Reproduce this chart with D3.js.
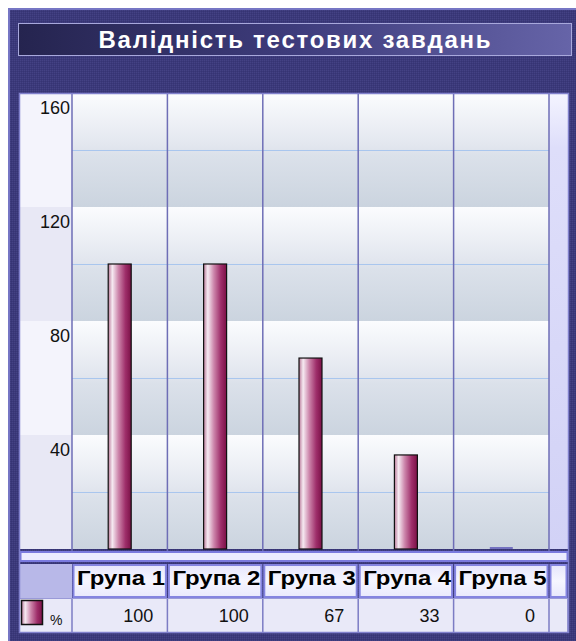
<!DOCTYPE html>
<html>
<head>
<meta charset="utf-8">
<script src="https://cdn.jsdelivr.net/npm/d3@7"></script>
<style>
  html, body { margin: 0; padding: 0; background: #ffffff; }
  svg { display: block; font-family: "Liberation Sans", Arial, sans-serif; }
</style>
</head>
<body>
<div id="chart"></div>
<script>
// Chart data.
const chartTitle = 'Валідність тестових завдань';
const categories = ['Група 1', 'Група 2', 'Група 3', 'Група 4', 'Група 5'];
const values = [100, 100, 67, 33, 0];
const seriesName = '%';
const yTicks = [40, 80, 120, 160];
const gridValues = [20, 60, 100, 140];
const bandEdges = [0, 40, 80, 120, 160];

const width = 576;
const height = 641;

const svg = d3.select('#chart')
    .append('svg')
    .attr('width', width)
    .attr('height', height);

const defs = svg.append('defs');

// Dithered navy texture for the frame.
const pat = defs.append('pattern')
    .attr('id', 'navy')
    .attr('width', 2)
    .attr('height', 2)
    .attr('patternUnits', 'userSpaceOnUse');
pat.append('rect').attr('width', 2).attr('height', 2).attr('fill', '#3b397a');
pat.append('rect').attr('width', 1).attr('height', 1).attr('fill', '#444284');
pat.append('rect').attr('x', 1).attr('y', 1).attr('width', 1).attr('height', 1).attr('fill', '#363473');

function gradient(id, stops, vertical) {
    const gr = defs.append('linearGradient')
        .attr('id', id)
        .attr('x1', 0).attr('y1', 0)
        .attr('x2', vertical ? 0 : 1)
        .attr('y2', vertical ? 1 : 0);
    stops.forEach(s => gr.append('stop').attr('offset', s[0]).attr('stop-color', s[1]));
}

gradient('titleGrad', [[0, '#25244f'], [0.5, '#3e3c7c'], [1, '#6664a8']], false);
gradient('bandGrad', [[0, '#fbfcfe'], [0.45, '#e3e7ef'], [0.55, '#dbe1ea'], [1, '#cbd4df']], true);
gradient('barGrad', [[0, '#b87898'], [0.18, '#f6eaf2'], [0.45, '#cc84aa'], [0.75, '#9e2e6a'], [1, '#7a1046']], false);
gradient('rightGrad', [[0, '#f4f4ff'], [0.12, '#dedefa'], [1, '#d2d2f6']], true);
gradient('headGrad', [[0, '#e6e6fc'], [0.5, '#f6f6ff'], [1, '#e8e8fc']], true);

// Outer frame.
svg.append('rect')
    .attr('x', 8).attr('y', 8)
    .attr('width', width - 8).attr('height', height - 8)
    .attr('fill', 'url(#navy)');
svg.append('path')
    .attr('d', `M9,${height}V9H${width}`)
    .attr('fill', 'none')
    .attr('stroke', '#7676c4')
    .attr('stroke-width', 2);

// Title bar.
svg.append('rect')
    .attr('x', 18.5).attr('y', 23.5)
    .attr('width', 553).attr('height', 32)
    .attr('fill', 'url(#titleGrad)')
    .attr('stroke', '#a8a8dc')
    .attr('stroke-width', 1);
svg.append('text')
    .attr('x', 294.5)
    .attr('y', 48)
    .attr('text-anchor', 'middle')
    .attr('fill', '#ffffff')
    .attr('font-size', 24)
    .attr('font-weight', 'bold')
    .attr('textLength', 392)
    .attr('lengthAdjust', 'spacing')
    .text(chartTitle);

// Scales.
const plotLeft = 72, plotRight = 549;
const x = d3.scaleBand()
    .domain(categories)
    .range([plotLeft, plotRight]);
const y = d3.scaleLinear()
    .domain([0, 160])
    .range([549, 93]);

// Left axis column with alternating bands.
svg.append('g')
    .selectAll('rect')
    .data(d3.pairs(bandEdges))
    .enter()
    .append('rect')
    .attr('x', 20)
    .attr('y', d => y(d[1]))
    .attr('width', plotLeft - 20)
    .attr('height', d => y(d[0]) - y(d[1]))
    .attr('fill', (d, i) => i % 2 === 0 ? '#e8e8f5' : '#f4f4fc');

// Plot bands.
svg.append('g')
    .selectAll('rect')
    .data(d3.pairs(bandEdges))
    .enter()
    .append('rect')
    .attr('x', plotLeft)
    .attr('y', d => y(d[1]))
    .attr('width', plotRight - plotLeft)
    .attr('height', d => y(d[0]) - y(d[1]))
    .attr('fill', 'url(#bandGrad)');

// Right spare column.
svg.append('rect')
    .attr('x', plotRight).attr('y', y(160))
    .attr('width', 568 - plotRight).attr('height', y(0) - y(160))
    .attr('fill', 'url(#rightGrad)');

// Minor gridlines.
svg.append('g')
    .selectAll('line')
    .data(gridValues)
    .enter()
    .append('line')
    .attr('x1', plotLeft).attr('x2', plotRight)
    .attr('y1', d => y(d) + 0.5).attr('y2', d => y(d) + 0.5)
    .attr('stroke', '#a9c6ee')
    .attr('stroke-width', 1.2);

// Column separators.
const edges = categories.map(c => x(c)).concat([plotRight]);
svg.append('g')
    .selectAll('line')
    .data(edges)
    .enter()
    .append('line')
    .attr('x1', d => d).attr('x2', d => d)
    .attr('y1', y(160)).attr('y2', y(0) + 2)
    .attr('stroke', '#6e6eb6')
    .attr('stroke-width', 1.5);

// Y axis labels.
const yAxis = svg.append('g')
    .attr('transform', `translate(${plotLeft},0)`)
    .call(d3.axisLeft(y).tickValues(yTicks).tickSize(0));
yAxis.select('.domain').remove();
yAxis.selectAll('text')
    .attr('x', -2)
    .attr('dy', null)
    .attr('y', 20)
    .attr('fill', '#111111')
    .attr('font-size', 18)
    .attr('font-family', '"Liberation Sans", Arial, sans-serif');

// Bars.
const barW = 23;
svg.append('g')
    .selectAll('rect')
    .data(values)
    .enter()
    .append('rect')
    .attr('x', (d, i) => x(categories[i]) + x.bandwidth() / 2 - barW / 2)
    .attr('y', d => d > 0 ? y(d) : y(0) - 2)
    .attr('width', barW)
    .attr('height', d => d > 0 ? y(0) - y(d) : 2)
    .attr('fill', d => d > 0 ? 'url(#barGrad)' : '#7472c0')
    .attr('stroke', d => d > 0 ? '#111111' : 'none')
    .attr('stroke-width', 1.2);

// Strip below plot.
svg.append('rect')
    .attr('x', 20.5).attr('y', 552)
    .attr('width', 547).attr('height', 9)
    .attr('fill', '#ebebff')
    .attr('stroke', '#7a7ade')
    .attr('stroke-width', 2);

// Table header row.
const headTop = 564, headH = 34;
const rowTop = 598, rowH = 34;
svg.append('rect')
    .attr('x', 20).attr('y', headTop)
    .attr('width', plotLeft - 20).attr('height', headH)
    .attr('fill', '#b8b8e8');
svg.append('g')
    .selectAll('rect')
    .data(categories.concat(['']))
    .enter()
    .append('rect')
    .attr('x', (d, i) => edges[i] + 1.5)
    .attr('y', headTop + 1)
    .attr('width', (d, i) => (i < categories.length ? x.bandwidth() : 568 - plotRight) - 3)
    .attr('height', headH - 2)
    .attr('fill', 'url(#headGrad)')
    .attr('stroke', '#8484e0')
    .attr('stroke-width', 2);
svg.append('g')
    .selectAll('text')
    .data(categories)
    .enter()
    .append('text')
    .attr('x', d => x(d) + 5)
    .attr('y', 585)
    .attr('font-size', 21)
    .attr('font-weight', 'bold')
    .attr('fill', '#000000')
    .attr('textLength', 88)
    .attr('lengthAdjust', 'spacingAndGlyphs')
    .text(d => d);

// Table value row.
svg.append('rect')
    .attr('x', 20).attr('y', rowTop)
    .attr('width', 548).attr('height', rowH)
    .attr('fill', '#e9e9f8');
svg.append('g')
    .selectAll('line')
    .data(edges.concat([568]))
    .enter()
    .append('line')
    .attr('x1', d => d).attr('x2', d => d)
    .attr('y1', rowTop).attr('y2', rowTop + rowH)
    .attr('stroke', '#7c7cc4')
    .attr('stroke-width', 1.5);
svg.append('line')
    .attr('x1', 20).attr('x2', 568)
    .attr('y1', rowTop + 0.5).attr('y2', rowTop + 0.5)
    .attr('stroke', '#9a9ad8');
svg.append('g')
    .selectAll('text')
    .data(values)
    .enter()
    .append('text')
    .attr('x', (d, i) => x(categories[i]) + x.bandwidth() - 14)
    .attr('y', 622)
    .attr('text-anchor', 'end')
    .attr('font-size', 18)
    .attr('fill', '#111111')
    .text(d => d);

// Legend swatch and series name.
svg.append('rect')
    .attr('x', 21.5).attr('y', 600.5)
    .attr('width', 21).attr('height', 24)
    .attr('fill', 'url(#barGrad)')
    .attr('stroke', '#111111')
    .attr('stroke-width', 1.5);
svg.append('text')
    .attr('x', 50)
    .attr('y', 625)
    .attr('font-size', 14)
    .attr('fill', '#111111')
    .text(seriesName);

// Panel border.
svg.append('rect')
    .attr('x', 19.5).attr('y', 93.5)
    .attr('width', 549).attr('height', 539)
    .attr('fill', 'none')
    .attr('stroke', '#8080cc')
    .attr('stroke-width', 1.5);
</script>
</body>
</html>
